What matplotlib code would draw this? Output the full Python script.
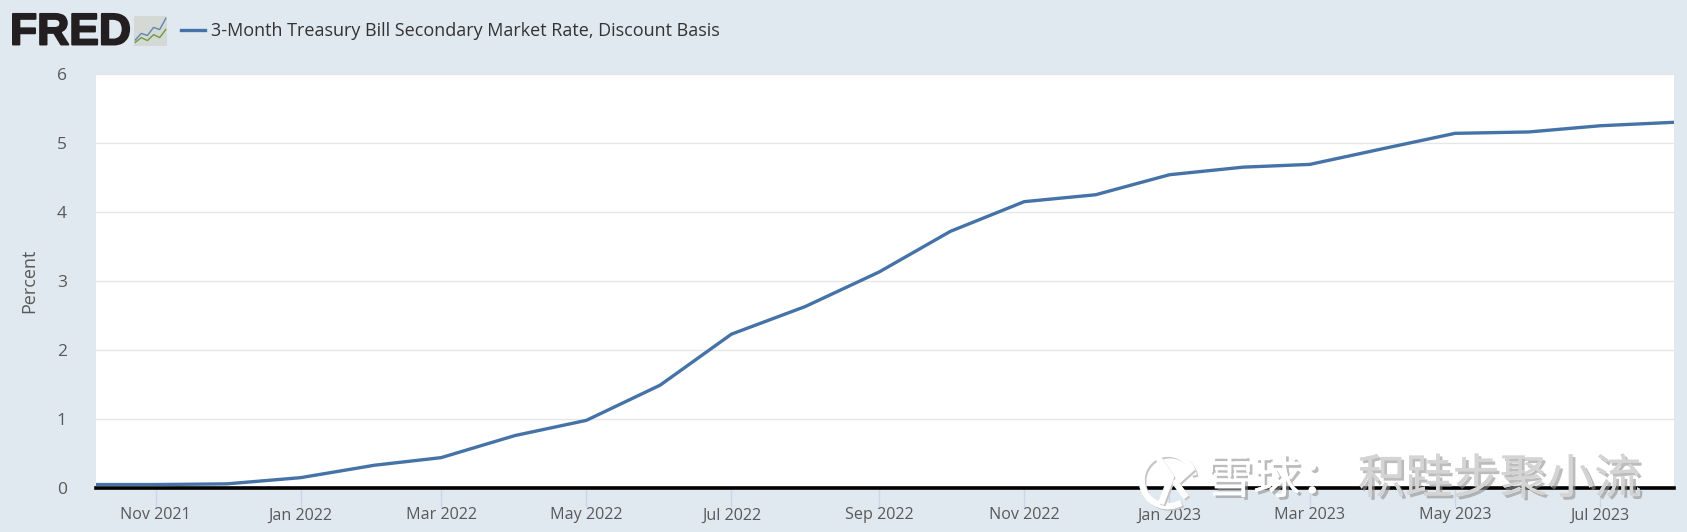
import numpy as np
import pandas as pd
import matplotlib
matplotlib.use("Agg")
import matplotlib.pyplot as plt
import matplotlib.dates as mdates
import matplotlib.patheffects as pe
from matplotlib.patches import Arc

months = pd.date_range("2021-10-01", "2023-08-01", freq="MS")
rate = [0.05, 0.05, 0.06, 0.15, 0.33, 0.44, 0.76, 0.98, 1.49, 2.23, 2.63, 3.13,
        3.72, 4.15, 4.25, 4.54, 4.65, 4.69, 4.92, 5.14, 5.16, 5.25, 5.30]
series_name = "3-Month Treasury Bill Secondary Market Rate, Discount Basis"
yticks = [0, 1, 2, 3, 4, 5, 6]
xticks = pd.to_datetime(["2021-11-01", "2022-01-01", "2022-03-01", "2022-05-01", "2022-07-01",
                         "2022-09-01", "2022-11-01", "2023-01-01", "2023-03-01", "2023-05-01",
                         "2023-07-01"])
logo_blue = [0.2, 0.42, 0.35, 0.62, 0.55, 0.92]
logo_green = [0.12, 0.28, 0.18, 0.38, 0.28, 0.55]

W, H = 1687.0, 532.0
bg = "#e1e9f0"
txt = "#595959"
blue = "#4572a7"

plt.rcParams['font.family'] = ['Open Sans', 'DejaVu Sans']

fg = plt.figure(figsize=(16.87, 5.32), dpi=100, facecolor=bg)
ax = fg.add_axes([96/W, 1-488/H, (1674-96)/W, (488-74)/H])
ax.plot(months, rate, color=blue, lw=2.4, zorder=3, solid_joinstyle="round")
ax.set_xlim(pd.Timestamp("2021-10-07"), pd.Timestamp("2023-08-01"))
ax.set_ylim(0, 6)
ax.set_yticks(yticks)
ax.set_xticks(xticks)
ax.xaxis.set_major_formatter(mdates.DateFormatter("%b %Y"))
ax.grid(axis="y", color="#e6e6e6", lw=1)
ax.set_axisbelow(True)
ax.tick_params(axis="y", length=0, labelsize=12.5, labelcolor=txt, pad=21)
ax.tick_params(axis="x", length=14, width=1, color="#ccd6eb", labelsize=11.6, labelcolor=txt, pad=0)
for s in ["top", "left", "right"]:
    ax.spines[s].set_visible(False)
ax.spines["bottom"].set_color("black")
ax.spines["bottom"].set_linewidth(2.6)
ax.set_ylabel("Percent", fontsize=13, color=txt)
ax.yaxis.set_label_coords(38/W, 1-281/H, transform=fg.transFigure)

# header
fg.text(10/W, 1-33/H, "FRED", fontsize=32, fontweight="bold", color="#231f20", va="center",
        family=["Liberation Sans"], path_effects=[pe.withStroke(linewidth=1.4, foreground="#231f20")])
ic = fg.add_axes([134/W, 1-46/H, 33/W, 30/H])
ic.set_facecolor("#d5d9d6")
ic.plot(logo_blue, color="#5f87ae", lw=1)
ic.plot(logo_green, color="#6f9a3e", lw=1)
ic.set_xlim(-0.2, 5.2)
ic.set_ylim(0, 1)
ic.set_xticks([])
ic.set_yticks([])
for s in ic.spines.values():
    s.set_visible(False)
fg.add_artist(plt.Line2D([181/W, 205/W], [1-30/H, 1-30/H], color=blue, lw=2.4))
fg.text(211/W, 1-31/H, series_name, fontsize=13, color="#333333", va="center")

# watermark
wm = fg.add_axes([1138/W, 1-510/H, 60/W, 60/H], facecolor="none", zorder=5)
wm.set_xlim(-1, 1)
wm.set_ylim(-1, 1)
wm.axis("off")
for off, col, lw in [(0.06, "#c4c4c4", 4), (0, "white", 4.5)]:
    wm.add_patch(Arc((off, -off), 1.75, 1.75, theta1=10, theta2=300, color=col, lw=lw, clip_on=False))
    wm.plot(np.array([-0.3, 0.1, -0.2]) + off, np.array([0.7, 0.1, -0.7]) - off, color=col, lw=lw, clip_on=False)
    wm.plot(np.array([0.75, 0.25, 0.55]) + off, np.array([0.35, -0.1, -0.5]) - off, color=col, lw=lw, clip_on=False)
shadow = [pe.withSimplePatchShadow(offset=(2, -2), shadow_rgbFace="#909090", alpha=0.6), pe.Normal()]
fg.text(1206/W, 1-480/H, "雪球：", fontsize=34, color="white", va="center", zorder=6,
        family=["Noto Sans CJK SC"], path_effects=shadow)
fg.text(1358/W, 1-480/H, "积跬步聚小流", fontsize=34, color="#d4d4d4", va="center", zorder=6,
        family=["Noto Sans CJK SC"], path_effects=shadow)

fg.savefig("out.png", dpi=100, facecolor=bg)
